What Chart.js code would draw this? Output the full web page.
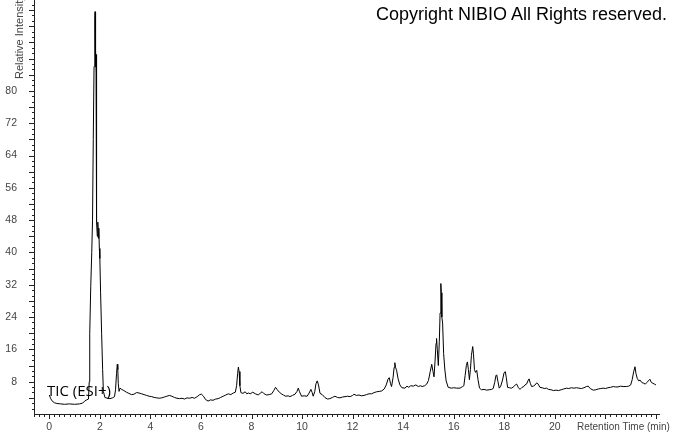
<!DOCTYPE html>
<html lang="en">
<head>
<meta charset="UTF-8">
<title>TIC (ESI+)</title>
<script src="https://cdn.jsdelivr.net/npm/chart.js"></script>
<style>
    * { margin: 0; padding: 0; box-sizing: border-box; }
    body { background: #fff; width: 673px; height: 433px; overflow: hidden; position: relative; }
    #wrap { position: absolute; left: 0; top: 0; width: 673px; height: 433px; }
    .txt { position: absolute; white-space: nowrap; }
    #copy { left: 376px; top: 5px; font: 18px/18px 'Liberation Sans', Arial, sans-serif; color: #000; }
    #tic { left: 47px; top: 383px; font: 15px/15px 'Open Sans', sans-serif; color: #000; }
    #ytitle { left: 14px; top: 79px; font: 11px/11px 'Liberation Sans', Arial, sans-serif; color: #444;
              transform-origin: 0 0; transform: rotate(-90deg); }
    #xtitle { left: 577px; top: 422px; font: 10px/10px 'Liberation Sans', Arial, sans-serif; color: #444; }
</style>
</head>
<body>
<div id="wrap"><canvas id="tic-chart" width="673" height="433"></canvas></div>
<div class="txt" id="copy">Copyright NIBIO All Rights reserved.</div>
<div class="txt" id="tic">TIC (ESI+)</div>
<div class="txt" id="ytitle">Relative Intensity</div>
<div class="txt" id="xtitle">Retention Time (min)</div>

<script>
// retention time (min)
const times = [
    0.00, 0.05, 0.10, 0.20, 0.30, 0.45, 0.60, 0.80, 1.00, 1.20, 1.32, 1.40, 1.48, 1.55,
    1.58, 1.60, 1.64, 1.68, 1.71, 1.74, 1.77, 1.80, 1.81, 1.82, 1.83, 1.84, 1.85, 1.86,
    1.87, 1.88, 1.90, 1.92, 1.94, 1.96, 1.98, 2.00, 2.03, 2.07, 2.11, 2.14, 2.20, 2.30,
    2.40, 2.50, 2.58, 2.62, 2.66, 2.69, 2.71, 2.73, 2.76, 2.80, 2.86, 2.95, 3.05, 3.15,
    3.25, 3.35, 3.45, 3.55, 3.65, 3.75, 3.85, 3.95, 4.05, 4.15, 4.25, 4.35, 4.45, 4.55,
    4.65, 4.75, 4.85, 4.95, 5.05, 5.15, 5.25, 5.35, 5.45, 5.55, 5.65, 5.75, 5.85, 5.95,
    6.02, 6.10, 6.18, 6.28, 6.38, 6.48, 6.58, 6.68, 6.78, 6.88, 6.98, 7.08, 7.18, 7.28,
    7.36, 7.41, 7.45, 7.48, 7.51, 7.54, 7.58, 7.66, 7.75, 7.81, 7.88, 7.95, 8.05, 8.15,
    8.27, 8.35, 8.42, 8.50, 8.60, 8.70, 8.80, 8.88, 8.95, 9.02, 9.10, 9.18, 9.26, 9.35,
    9.45, 9.52, 9.62, 9.72, 9.80, 9.85, 9.90, 9.98, 10.08, 10.20, 10.28, 10.35, 10.40, 10.44,
    10.50, 10.55, 10.60, 10.65, 10.71, 10.80, 10.90, 11.00, 11.10, 11.20, 11.30, 11.40, 11.50, 11.60,
    11.70, 11.80, 11.90, 12.00, 12.05, 12.15, 12.25, 12.35, 12.45, 12.55, 12.65, 12.75, 12.85, 12.95,
    13.05, 13.15, 13.25, 13.33, 13.40, 13.45, 13.50, 13.54, 13.60, 13.64, 13.67, 13.70, 13.74, 13.80,
    13.87, 13.95, 14.07, 14.15, 14.22, 14.30, 14.40, 14.50, 14.60, 14.68, 14.75, 14.85, 14.93, 15.00,
    15.07, 15.13, 15.18, 15.22, 15.26, 15.30, 15.32, 15.35, 15.39, 15.43, 15.46, 15.49, 15.51, 15.53,
    15.56, 15.60, 15.65, 15.70, 15.78, 15.90, 16.00, 16.12, 16.25, 16.35, 16.40, 16.45, 16.50, 16.54,
    16.58, 16.62, 16.66, 16.70, 16.75, 16.78, 16.82, 16.86, 16.91, 16.96, 17.02, 17.10, 17.20, 17.30,
    17.40, 17.50, 17.56, 17.62, 17.67, 17.70, 17.75, 17.80, 17.86, 17.93, 17.99, 18.04, 18.08, 18.13,
    18.20, 18.29, 18.38, 18.45, 18.49, 18.55, 18.62, 18.70, 18.77, 18.82, 18.88, 18.95, 18.98, 19.03,
    19.08, 19.15, 19.22, 19.28, 19.33, 19.41, 19.50, 19.58, 19.67, 19.75, 19.85, 19.95, 20.05, 20.15,
    20.25, 20.35, 20.47, 20.55, 20.65, 20.75, 20.86, 20.95, 21.05, 21.15, 21.25, 21.32, 21.40, 21.52,
    21.62, 21.72, 21.82, 21.91, 22.00, 22.10, 22.20, 22.31, 22.40, 22.50, 22.60, 22.70, 22.84, 22.92,
    23.00, 23.06, 23.12, 23.17, 23.21, 23.26, 23.32, 23.37, 23.44, 23.52, 23.58, 23.64, 23.70, 23.76,
    23.82, 23.88, 23.94, 24.00
];
// relative intensity (%)
const intensity = [
    4.7, 3.9, 3.3, 2.8, 2.6, 2.5, 2.4, 2.5, 2.4, 2.5, 2.7, 3.2, 3.5, 3.7,
    8, 20, 31.5, 40, 48, 68, 86, 97, 99.6, 95, 86, 90, 84.5, 89,
    70, 47.5, 44, 47.5, 43.5, 46, 41, 38.5, 30, 20, 11, 5.6, 4.1, 3.9,
    3.8, 4.0, 4.3, 6, 10, 12.3, 11, 7.5, 5.6, 6.4, 6.1, 5.8, 5.4, 5.1,
    4.8, 4.9, 5.3, 5.2, 5.0, 4.8, 4.6, 4.4, 4.3, 4.1, 4.0, 3.9, 4.0, 4.2,
    4.4, 4.6, 4.4, 4.1, 3.9, 3.8, 3.9, 3.7, 4.0, 3.9, 4.1, 3.9, 4.3, 4.8,
    4.9, 4.4, 3.6, 3.2, 3.5, 3.4, 3.7, 3.8, 4.1, 4.4, 4.7, 5.0, 4.8, 5.2,
    5.4, 7, 10, 11.6, 10.5, 7, 5.3, 5.1, 5.5, 5.0, 5.2, 5.0, 5.4, 5.0,
    4.7, 5.2, 5.5, 5.0, 4.7, 4.8, 5.0, 5.8, 6.6, 6.0, 5.4, 5.0, 4.7, 4.4,
    4.5, 4.3, 4.6, 4.9, 5.6, 6.4, 5.5, 4.4, 4.5, 4.4, 5.2, 6.1, 5.3, 4.4,
    5.5, 7.5, 8.2, 7.2, 5.1, 4.8, 4.1, 3.7, 3.8, 4.1, 4.4, 4.1, 4.0, 4.2,
    4.3, 4.4, 4.3, 4.6, 4.9, 4.6, 4.7, 4.5, 4.6, 4.8, 5.0, 5.0, 5.3, 5.5,
    5.6, 5.7, 6.2, 7.2, 8.6, 9.0, 7.5, 6.8, 9, 11.5, 12.7, 11.5, 10.8, 8.7,
    7.2, 6.5, 6.4, 6.9, 6.6, 7.0, 6.9, 7.2, 6.8, 7.0, 6.8, 7.0, 7.4, 8.3,
    10.5, 12.3, 10.5, 9.2, 13, 17.5, 18.7, 16, 12, 18, 25, 32.3, 30, 24,
    22.5, 15, 10.9, 8.2, 6.6, 6.4, 6.5, 6.4, 6.4, 6.8, 7.0, 9.5, 12.0, 12.9,
    11, 8.5, 11, 14.5, 16.7, 15, 11, 10.3, 10.8, 8.5, 6.4, 6.0, 6.1, 5.9,
    6.0, 6.1, 6.3, 7.8, 9.5, 9.7, 8.0, 6.4, 6.9, 8.4, 10.2, 10.5, 9.0, 6.6,
    6.5, 6.4, 6.8, 7.3, 7.4, 6.6, 6.1, 6.6, 6.8, 7.2, 7.4, 8.4, 8.7, 7.6,
    6.8, 6.9, 7.2, 7.7, 7.5, 6.6, 6.5, 6.3, 6.4, 6.1, 6.0, 5.8, 5.9, 5.8,
    6.0, 6.2, 6.4, 6.3, 6.5, 6.4, 6.5, 6.4, 6.3, 6.5, 6.8, 6.9, 6.3, 5.9,
    6.0, 6.2, 6.3, 6.4, 6.3, 6.5, 6.6, 6.8, 6.7, 6.7, 6.9, 6.8, 6.8, 6.9,
    7.2, 8.5, 10.5, 11.7, 10.0, 8.8, 8.2, 8.4, 7.8, 7.6, 7.4, 7.8, 8.2, 8.6,
    7.8, 7.6, 7.4, 7.2
];
const xTickLabels = [0, 2, 4, 6, 8, 10, 12, 14, 16, 18, 20];
const yTickLabels = [8, 16, 24, 32, 40, 48, 56, 64, 72, 80];

// axis lines + major/minor tick marks, drawn through the scales
const axisTicks = {
    id: 'axisTicks',
    afterDraw(chart) {
        const { ctx, chartArea: a, scales: { x, y } } = chart;
        ctx.save();
        ctx.strokeStyle = '#222';
        ctx.lineWidth = 1;
        ctx.beginPath();
        ctx.moveTo(a.left + 0.5, 0);
        ctx.lineTo(a.left + 0.5, a.bottom + 0.5);
        ctx.lineTo(a.right, a.bottom + 0.5);
        for (let i = Math.ceil(x.min / 0.2); i * 0.2 <= x.max; i++) {
            const px = Math.round(x.getPixelForValue(i * 0.2)) + 0.5;
            const len = i % 10 === 0 ? 5 : 3;
            ctx.moveTo(px, a.bottom);
            ctx.lineTo(px, a.bottom + len);
        }
        for (let i = 1; (i * 4 / 3) <= y.max; i++) {
            const py = Math.round(y.getPixelForValue(i * 4 / 3)) + 0.5;
            const len = i % 3 === 0 ? 5 : 2;
            ctx.moveTo(a.left, py);
            ctx.lineTo(a.left - len, py);
        }
        ctx.stroke();
        ctx.restore();
    }
};

const tickFont = { family: "'Liberation Sans', Arial, sans-serif", size: 10.5 };

new Chart(document.getElementById('tic-chart'), {
    type: 'line',
    data: {
        datasets: [{
            data: times.map((t, i) => ({ x: t, y: intensity[i] })),
            borderColor: '#000',
            borderWidth: 1,
            pointRadius: 0,
            tension: 0,
            fill: false
        }]
    },
    options: {
        responsive: false,
        animation: false,
        devicePixelRatio: 1,
        layout: { autoPadding: false, padding: { left: 0, right: 13, top: 0, bottom: 0 } },
        plugins: { legend: { display: false }, tooltip: { enabled: false } },
        scales: {
            x: {
                type: 'linear',
                min: -0.605,
                max: 24.16,
                afterBuildTicks: s => { s.ticks = xTickLabels.map(v => ({ value: v })); },
                afterFit: s => { s.height = 19; s.paddingLeft = 0; s.paddingRight = 0; },
                grid: { display: false, drawTicks: false },
                border: { display: false },
                ticks: { autoSkip: false, maxRotation: 0, padding: 7, color: '#444', font: tickFont }
            },
            y: {
                min: 0,
                max: 102.5,
                afterBuildTicks: s => { s.ticks = yTickLabels.map(v => ({ value: v })); },
                afterFit: s => { s.width = 34; s.paddingTop = 0; s.paddingBottom = 0; },
                grid: { display: false, drawTicks: false },
                border: { display: false },
                ticks: { autoSkip: false, padding: 17, color: '#444', font: tickFont }
            }
        }
    },
    plugins: [axisTicks]
});
</script>
</body>
</html>
